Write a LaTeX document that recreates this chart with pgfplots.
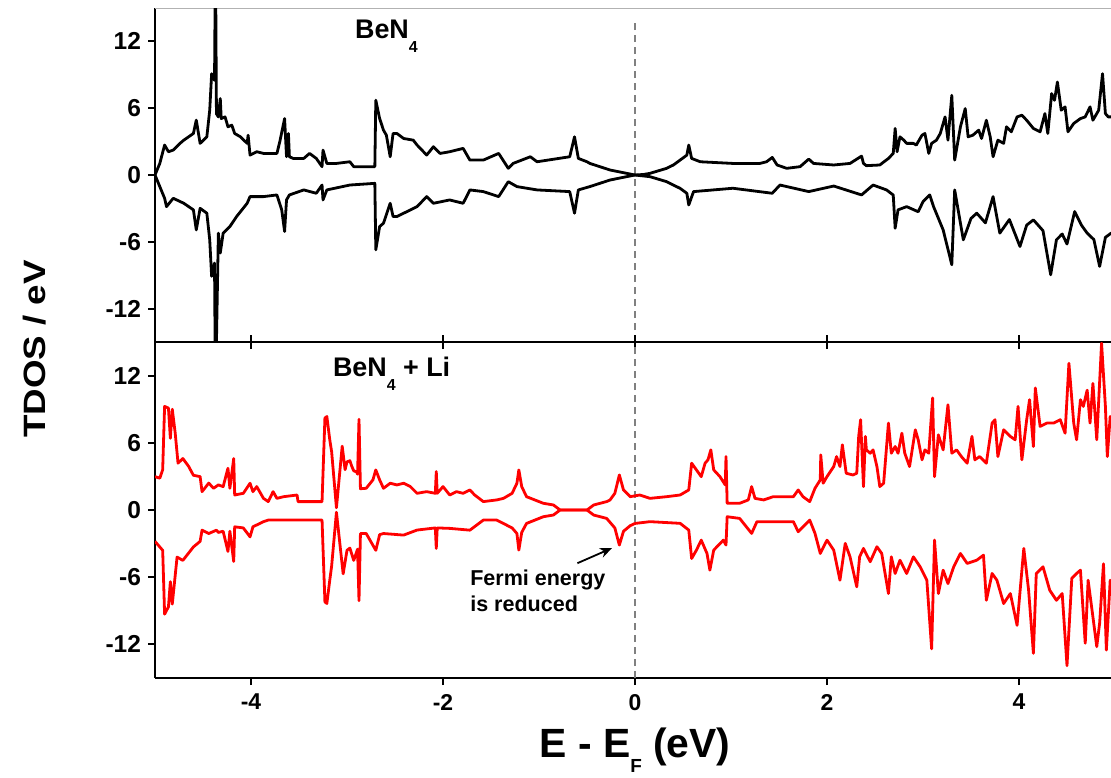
\documentclass[border=0pt]{standalone}
\usepackage{pgfplots}
\pgfplotsset{compat=1.18}
\usepackage{fontspec}
\setmainfont{Liberation Sans}
\newfontfamily\widefont[FakeStretch=1.19]{Liberation Sans}
\usetikzlibrary{arrows.meta}
\definecolor{dosred}{rgb}{1,0,0}
% subscript set fully below the baseline, as in the original figure
\newcommand{\lowsub}[3]{\raisebox{-#3}{\fontsize{#2}{#2}\selectfont #1}}

\pgfplotsset{
  panel/.style={
    scale only axis, width=480bp,
    xmin=-5, xmax=5, ymin=-15, ymax=15,
    xtick={-4,-2,0,2,4},
    ytick={-12,-6,0,6,12}, yticklabels={-12,-6,0,6,12},
    tick align=outside, major tick length=3.5bp,
    tick style={black, line width=1bp},
    axis line style={line width=1bp},
    y tick label style={font=\fontsize{12.3}{14}\bfseries},
    x tick label style={font=\fontsize{11.5}{13}\bfseries},
  },
  dos/.style={line width=1.4bp, line join=round},
  fermi/.style={gray, line width=1bp, dash pattern=on 3.5bp off 2.5bp},
}

\begin{document}
\begin{tikzpicture}
% ---------------- BeN4 ----------------
\begin{axis}[panel, name=top, height=167bp,
    axis x line*=bottom, axis y line*=left,
    xticklabels={}]
\draw[gray!60, line width=0.6bp] (rel axis cs:0,1) -- (rel axis cs:1,1);
\addplot[fermi] coordinates {(0,-15) (0,13.7)};
% spin up
\addplot[dos, black] coordinates {
(-5.00,0) (-4.95,1.04) (-4.90,2.69) (-4.86,2.09) (-4.81,2.24) (-4.74,2.84)
(-4.70,3.13) (-4.60,3.73) (-4.57,4.93) (-4.53,2.84) (-4.46,3.43) (-4.43,5.82)
(-4.41,9.1) (-4.38,8.5) (-4.37,20) (-4.36,5.5) (-4.34,5.22) (-4.32,6.87)
(-4.31,5.07) (-4.27,5.22) (-4.24,4.33) (-4.20,4.48) (-4.17,3.73) (-4.11,3.43)
(-4.04,2.84) (-4.03,3.58) (-4.01,1.79) (-3.94,2.09) (-3.87,1.94) (-3.73,1.94)
(-3.70,2.99) (-3.65,5.07) (-3.63,1.64) (-3.61,3.73) (-3.60,1.64) (-3.56,1.49)
(-3.45,1.49) (-3.39,1.94) (-3.32,1.49) (-3.26,0.75) (-3.25,2.24) (-3.21,1.04)
(-3.11,1.04) (-2.97,1.19) (-2.93,0.75) (-2.71,0.75) (-2.70,6.72) (-2.66,5.07)
(-2.62,4.03) (-2.59,3.58) (-2.55,1.64) (-2.52,3.73) (-2.48,3.73) (-2.41,3.28)
(-2.31,3.13) (-2.27,2.69) (-2.17,1.79) (-2.10,2.54) (-2.03,1.94) (-1.93,2.09)
(-1.79,2.39) (-1.72,1.34) (-1.58,1.34) (-1.42,1.94) (-1.32,0.6) (-1.27,1.04)
(-1.09,1.64) (-1.02,1.19) (-0.68,1.64) (-0.63,3.43) (-0.59,1.49) (-0.50,1.19)
(-0.47,1.04) (-0.26,0.45) (0.00,0.00) (0.09,0.05) (0.156,0.15) (0.33,0.6)
(0.40,0.9) (0.47,1.34) (0.54,1.79) (0.56,2.69) (0.59,1.49) (0.68,1.19)
(1.02,1.04) (1.30,1.04) (1.37,1.19) (1.43,1.58) (1.48,0.9) (1.58,0.6)
(1.72,0.75) (1.81,1.43) (1.86,1.04) (2.07,0.9) (2.24,1.04) (2.36,1.70)
(2.38,1.04) (2.41,0.84) (2.55,0.9) (2.64,1.49) (2.69,1.94) (2.71,4.18)
(2.73,2.09) (2.76,3.43) (2.80,3.13) (2.83,2.84) (2.90,2.84) (2.93,2.69)
(2.99,3.58) (3.02,3.73) (3.06,1.94) (3.09,2.84) (3.14,3.13) (3.18,3.73)
(3.23,5.22) (3.26,3.13) (3.30,7.16) (3.33,1.34) (3.39,4.33) (3.44,5.97)
(3.47,3.43) (3.52,3.58) (3.58,4.03) (3.61,3.28) (3.66,4.92) (3.70,3.43)
(3.73,1.64) (3.78,3.13) (3.84,2.84) (3.87,4.33) (3.92,3.88) (3.98,5.22)
(4.03,5.37) (4.08,4.92) (4.15,4.18) (4.22,3.88) (4.27,5.52) (4.30,3.73)
(4.34,7.31) (4.37,6.71) (4.40,8.35) (4.44,5.82) (4.48,6.12) (4.51,3.88)
(4.57,4.63) (4.64,5.07) (4.69,5.22) (4.74,6.12) (4.77,4.92) (4.83,5.82)
(4.87,9.1) (4.90,5.52) (4.93,5.22) (5.00,5.22)
};
% spin down
\addplot[dos, black] coordinates {
(-5.00,0) (-4.95,-1.04) (-4.90,-2.09) (-4.88,-2.84) (-4.81,-2.09) (-4.70,-2.54)
(-4.60,-3.13) (-4.57,-4.93) (-4.53,-2.99) (-4.46,-3.43) (-4.43,-5.82) (-4.41,-9.1)
(-4.38,-7.91) (-4.37,-20) (-4.34,-5.22) (-4.32,-7.01) (-4.29,-5.22) (-4.22,-4.63)
(-4.15,-3.73) (-4.04,-2.54) (-4.01,-1.94) (-3.87,-1.94) (-3.73,-1.79) (-3.68,-3.13)
(-3.65,-5.07) (-3.63,-2.24) (-3.60,-1.79) (-3.45,-1.34) (-3.32,-1.64) (-3.26,-0.9)
(-3.25,-2.24) (-3.21,-1.34) (-2.97,-0.9) (-2.71,-0.75) (-2.70,-6.72) (-2.66,-4.63)
(-2.62,-4.33) (-2.55,-2.54) (-2.52,-3.73) (-2.48,-3.73) (-2.27,-2.84) (-2.17,-1.94)
(-2.10,-2.54) (-1.93,-2.24) (-1.79,-2.54) (-1.72,-1.34) (-1.58,-1.49) (-1.42,-1.94)
(-1.32,-0.6) (-1.23,-1.04) (-1.02,-1.34) (-0.68,-1.49) (-0.63,-3.43) (-0.59,-1.34)
(-0.47,-1.04) (-0.26,-0.45) (0.00,0) (0.156,-0.15) (0.33,-0.6) (0.47,-1.2)
(0.54,-1.64) (0.56,-2.69) (0.61,-1.49) (1.02,-1.19) (1.43,-1.64) (1.51,-0.9)
(1.81,-1.49) (2.07,-0.99) (2.36,-1.79) (2.48,-0.9) (2.62,-1.34) (2.69,-1.8)
(2.71,-4.78) (2.74,-3.13) (2.83,-2.84) (2.95,-3.3) (3.00,-2.4) (3.07,-1.79)
(3.11,-2.84) (3.21,-4.93) (3.30,-8.06) (3.33,-1.34) (3.42,-5.82) (3.50,-3.9)
(3.56,-3.43) (3.65,-4.3) (3.73,-1.94) (3.80,-5.22) (3.90,-4.0) (4.01,-6.42)
(4.08,-4.5) (4.15,-4.03) (4.25,-5.0) (4.33,-8.96) (4.39,-5.82) (4.45,-5.3)
(4.50,-6.2) (4.58,-3.28) (4.65,-4.5) (4.71,-5.22) (4.78,-5.8) (4.84,-8.21)
(4.90,-5.6) (4.96,-5.22) (5.00,-5.2)
};
\node[anchor=base west, inner sep=0, font=\fontsize{13.5}{16}\bfseries]
  at (axis cs:-2.92,12.3) {BeN\lowsub{4}{8}{7bp}};
\end{axis}

% ---------------- BeN4 + Li ----------------
\begin{axis}[panel, name=bot, height=168bp,
    at={(top.south west)}, anchor=north west,
    axis x line*=box, axis y line*=left,
    xticklabels={-4,-2,0,2,4},
    xlabel={E - E\lowsub{F}{9.5}{7.5bp} (eV)},
    xlabel style={font=\fontsize{20.5}{23}\bfseries,
      at={(axis description cs:0.5,0)}, anchor=base, yshift=-39.5bp},
    x tick label style={yshift=-1bp}]
\addplot[fermi] coordinates {(0,-15) (0,15)};
% spin up
\addplot[dos, dosred] coordinates {
(-5.00,2.98) (-4.95,2.84) (-4.92,3.6) (-4.90,9.25) (-4.86,9.1) (-4.84,6.4)
(-4.82,9.0) (-4.79,6.9) (-4.76,4.18) (-4.71,4.6) (-4.65,3.9) (-4.60,3.1)
(-4.53,2.98) (-4.51,1.64) (-4.44,2.4) (-4.39,1.94) (-4.34,2.24) (-4.29,2.09)
(-4.24,3.73) (-4.22,1.94) (-4.18,4.6) (-4.17,1.34) (-4.08,1.49) (-4.01,2.39)
(-3.98,1.64) (-3.94,2.09) (-3.87,1.04) (-3.82,0.75) (-3.77,1.64) (-3.73,1.04)
(-3.66,1.19) (-3.52,1.34) (-3.51,0.75) (-3.26,0.75) (-3.23,8.2) (-3.21,8.35)
(-3.18,6.3) (-3.16,5.2) (-3.11,0.2) (-3.05,5.7) (-3.02,3.6) (-3.00,4.3)
(-2.97,4.4) (-2.95,3.9) (-2.93,3.5) (-2.90,3.4) (-2.89,3.2) (-2.875,8.1)
(-2.86,1.9) (-2.80,1.94) (-2.73,2.69) (-2.70,3.58) (-2.66,2.69) (-2.62,1.94)
(-2.55,2.39) (-2.48,2.24) (-2.41,2.39) (-2.34,2.09) (-2.27,1.49) (-2.17,1.64)
(-2.08,1.49) (-2.07,3.43) (-2.06,1.49) (-2.00,2.09) (-1.93,1.34) (-1.86,1.64)
(-1.79,1.49) (-1.72,1.79) (-1.67,1.34) (-1.58,0.75) (-1.44,0.9) (-1.37,1.04)
(-1.28,1.49) (-1.23,2.39) (-1.21,3.58) (-1.18,2.09) (-1.13,1.19) (-0.955,0.6)
(-0.85,0.45) (-0.78,0.0) (-0.50,0.0) (-0.43,0.45) (-0.295,0.75) (-0.26,0.9)
(-0.21,1.49) (-0.163,3.13) (-0.12,1.79) (-0.05,1.19) (0.05,1.34) (0.156,1.04)
(0.33,1.19) (0.47,1.34) (0.56,1.79) (0.59,4.18) (0.64,3.58) (0.69,2.98)
(0.73,4.18) (0.76,4.48) (0.79,5.37) (0.82,3.58) (0.885,2.98) (0.94,2.24)
(0.948,4.77) (0.96,0.6) (1.09,0.6) (1.18,0.9) (1.215,2.09) (1.25,1.04)
(1.34,0.9) (1.44,1.19) (1.65,1.19) (1.70,1.79) (1.75,1.19) (1.82,0.75)
(1.875,1.94) (1.93,2.69) (1.935,4.92) (1.96,2.39) (2.00,2.98) (2.07,3.88)
(2.10,4.77) (2.135,3.88) (2.16,5.82) (2.20,3.28) (2.27,3.13) (2.31,3.28)
(2.33,6.57) (2.35,8.06) (2.38,2.09) (2.40,6.57) (2.41,5.37) (2.45,5.07)
(2.48,5.37) (2.52,3.88) (2.55,2.09) (2.59,2.39) (2.64,7.76) (2.67,5.07)
(2.71,5.67) (2.74,5.07) (2.78,6.86) (2.81,5.07) (2.86,3.88) (2.92,7.16)
(2.95,6.27) (2.99,4.48) (3.02,5.37) (3.06,5.07) (3.10,10.0) (3.12,2.98)
(3.16,6.71) (3.21,5.37) (3.26,9.4) (3.30,5.07) (3.35,5.37) (3.40,4.77)
(3.46,4.18) (3.51,6.57) (3.54,4.48) (3.59,4.77) (3.66,4.18) (3.72,7.76)
(3.75,8.06) (3.78,4.77) (3.84,7.16) (3.91,6.57) (3.96,6.27) (3.99,9.25)
(4.03,4.48) (4.08,8.06) (4.11,9.85) (4.15,5.67) (4.17,10.9) (4.22,7.46)
(4.29,7.76) (4.36,7.76) (4.43,8.06) (4.48,6.86) (4.52,13.1) (4.57,7.76)
(4.60,6.27) (4.64,9.85) (4.67,9.25) (4.71,10.7) (4.74,7.76) (4.77,11.3)
(4.81,6.27) (4.86,14.9) (4.90,9.25) (4.92,4.77) (4.95,8.35) (5.00,7.0)
};
% spin down
\addplot[dos, dosred] coordinates {
(-5.00,-2.8) (-4.95,-3.3) (-4.92,-3.6) (-4.90,-9.3) (-4.86,-8.65) (-4.84,-6.4)
(-4.82,-8.4) (-4.77,-4.2) (-4.71,-4.5) (-4.60,-3.3) (-4.53,-2.8) (-4.51,-1.8)
(-4.44,-2.1) (-4.36,-1.8) (-4.34,-2.0) (-4.29,-1.9) (-4.24,-3.7) (-4.22,-1.9)
(-4.18,-4.6) (-4.17,-1.5) (-4.08,-1.6) (-4.01,-2.4) (-3.98,-1.5) (-3.87,-1.04)
(-3.82,-0.9) (-3.26,-0.9) (-3.23,-8.2) (-3.21,-8.35) (-3.18,-6.3) (-3.16,-5.0)
(-3.11,-0.2) (-3.04,-5.7) (-3.00,-3.6) (-2.97,-3.4) (-2.93,-4.5) (-2.89,-3.5)
(-2.875,-8.1) (-2.86,-2.1) (-2.80,-2.1) (-2.70,-3.6) (-2.66,-2.2) (-2.62,-2.1)
(-2.41,-2.24) (-2.27,-1.79) (-2.08,-1.6) (-2.07,-3.43) (-2.06,-1.6) (-1.93,-1.64)
(-1.72,-1.8) (-1.58,-0.9) (-1.44,-0.9) (-1.28,-1.6) (-1.23,-2.1) (-1.21,-3.58)
(-1.18,-2.0) (-1.13,-1.2) (-0.955,-0.6) (-0.85,-0.45) (-0.78,0.0) (-0.50,0.0)
(-0.43,-0.45) (-0.295,-0.75) (-0.21,-1.6) (-0.163,-3.13) (-0.12,-1.9) (-0.05,-1.4)
(0.00,-1.2) (0.156,-1.04) (0.47,-1.19) (0.56,-1.79) (0.59,-4.33) (0.64,-3.58)
(0.69,-2.69) (0.75,-3.88) (0.78,-5.37) (0.82,-3.58) (0.92,-2.69) (0.948,-3.13)
(0.96,-0.6) (1.09,-0.75) (1.215,-2.09) (1.27,-1.04) (1.44,-1.04) (1.65,-1.04)
(1.70,-1.94) (1.82,-0.9) (1.875,-2.09) (1.93,-3.88) (2.00,-2.69) (2.07,-3.58)
(2.135,-6.27) (2.19,-2.98) (2.24,-4.18) (2.31,-6.86) (2.34,-4.18) (2.38,-3.43)
(2.45,-4.62) (2.52,-3.28) (2.57,-3.88) (2.64,-7.46) (2.67,-4.18) (2.71,-5.67)
(2.76,-4.48) (2.83,-5.67) (2.90,-4.18) (2.97,-5.07) (3.04,-6.27) (3.09,-12.4)
(3.12,-2.69) (3.16,-7.46) (3.21,-5.37) (3.26,-6.57) (3.32,-5.07) (3.39,-3.88)
(3.46,-4.77) (3.56,-4.48) (3.63,-4.03) (3.66,-8.06) (3.72,-5.67) (3.77,-6.27)
(3.84,-8.35) (3.91,-7.46) (3.98,-10.3) (4.05,-3.43) (4.10,-7.16) (4.15,-12.8)
(4.18,-5.67) (4.25,-5.07) (4.32,-7.16) (4.39,-8.06) (4.45,-7.46) (4.50,-13.9)
(4.55,-6.1) (4.60,-5.67) (4.64,-5.37) (4.69,-11.9) (4.72,-6.27) (4.77,-9.55)
(4.81,-12.2) (4.84,-10.1) (4.88,-4.8) (4.91,-12.5) (4.95,-6.27) (5.00,-8.0)
};
\node[anchor=base west, inner sep=0, font=\fontsize{13.5}{16}\bfseries]
  at (axis cs:-3.15,11.9) {BeN\lowsub{4}{8}{7bp} + Li};
\draw[-{Stealth[length=6bp,width=5bp]}, line width=0.9bp]
  (axis cs:-0.60,-4.75) -- (axis cs:-0.24,-3.4);
\node[anchor=base west, inner sep=0, font=\fontsize{10.8}{12}\bfseries]
  at (axis cs:-1.72,-6.78) {Fermi energy};
\node[anchor=base west, inner sep=0, font=\fontsize{10.8}{12}\bfseries]
  at (axis cs:-1.72,-9.1) {is reduced};
\end{axis}

\path (top.south west) ++(-60bp,-3.5bp)
  node[rotate=90, font=\fontsize{15.5}{18}\widefont\bfseries] {TDOS / eV};

\pgfresetboundingbox
\path[use as bounding box] (bot.south west) ++(-77.5bp,-50bp) rectangle ++(555.5bp,389bp);
\end{tikzpicture}
\end{document}
